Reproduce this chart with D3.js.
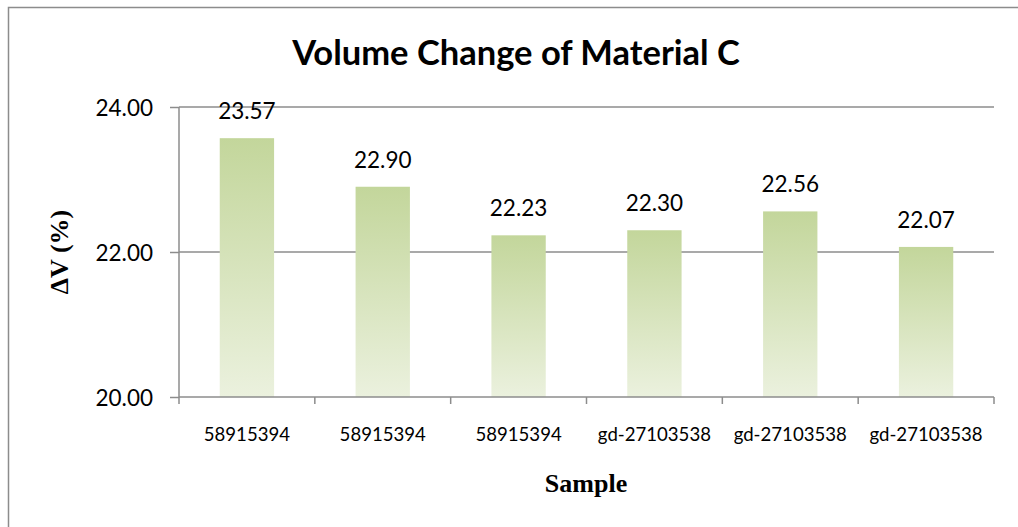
<!DOCTYPE html>
<html>
<head>
<meta charset="utf-8">
<script src="https://cdn.jsdelivr.net/npm/d3@7"></script>
<style>
  html, body { margin: 0; padding: 0; background: #fff; }
  svg { display: block; }
</style>
</head>
<body>
<svg id="chart" width="1018" height="527"></svg>
<script>
const categories = ["58915394", "58915394", "58915394", "gd-27103538", "gd-27103538", "gd-27103538"];
const values = [23.57, 22.90, 22.23, 22.30, 22.56, 22.07];
const yTicks = [20, 22, 24];
const title = "Volume Change of Material C";
const yTitle = "ΔV (%)";
const xTitle = "Sample";

const svg = d3.select("#chart");

const defs = svg.append("defs");
const grad = defs.append("linearGradient").attr("id", "barGrad")
  .attr("x1", 0).attr("y1", 0).attr("x2", 0).attr("y2", 1);
grad.append("stop").attr("offset", "0%").attr("stop-color", "#c3d69b");
grad.append("stop").attr("offset", "100%").attr("stop-color", "#ebf1de");

// outer frame
svg.append("rect").attr("x", 8.5).attr("y", 7.5).attr("width", 1030).attr("height", 560)
  .attr("fill", "#fff").attr("stroke", "#8c8c8c").attr("stroke-width", 1.5);

const x = d3.scaleBand().domain(d3.range(categories.length))
  .range([179, 994]).paddingInner(0.6).paddingOuter(0.3);
const y = d3.scaleLinear().domain([20, 24]).range([397, 107]);

// gridlines
svg.append("g").selectAll("line").data(yTicks.filter(t => t > 20)).join("line")
  .attr("x1", 179).attr("x2", 994)
  .attr("y1", d => y(d)).attr("y2", d => y(d))
  .attr("stroke", "#8c8c8c").attr("stroke-width", 1.5);

// bars
svg.append("g").selectAll("rect").data(values).join("rect")
  .attr("x", (d, i) => x(i))
  .attr("width", x.bandwidth())
  .attr("y", d => y(d))
  .attr("height", d => y(20) - y(d))
  .attr("fill", "url(#barGrad)");

// y axis
const yAxis = d3.axisLeft(y).tickValues(yTicks).tickFormat(d3.format(".2f"))
  .tickSize(9).tickPadding(17);
const gy = svg.append("g").attr("transform", "translate(179,0)").call(yAxis);
gy.select(".domain").attr("stroke", "#8c8c8c").attr("stroke-width", 1.5)
  .attr("d", "M0,107V397");
gy.selectAll(".tick line").attr("stroke", "#8c8c8c").attr("stroke-width", 1.5);
gy.selectAll(".tick text").attr("font-family", "Lato, sans-serif").attr("font-size", 22.5)
  .attr("fill", "#000").attr("dy", "0.36em");

// x axis
const xEdge = d3.scaleLinear().domain([0, categories.length]).range([179, 994]);
const gx = svg.append("g");
gx.append("line").attr("x1", 179).attr("x2", 994).attr("y1", 397).attr("y2", 397)
  .attr("stroke", "#8c8c8c").attr("stroke-width", 1.5);
gx.selectAll("line.tk").data(d3.range(categories.length + 1)).join("line").attr("class", "tk")
  .attr("x1", d => xEdge(d)).attr("x2", d => xEdge(d))
  .attr("y1", 397).attr("y2", 404)
  .attr("stroke", "#8c8c8c").attr("stroke-width", 1.5);
gx.selectAll("text").data(categories).join("text")
  .attr("x", (d, i) => x(i) + x.bandwidth() / 2)
  .attr("y", 441)
  .attr("text-anchor", "middle")
  .attr("font-family", "Lato, sans-serif").attr("font-size", 18.6)
  .attr("fill", "#000").text(d => d);

// data labels
svg.append("g").selectAll("text").data(values).join("text")
  .attr("x", (d, i) => x(i) + x.bandwidth() / 2)
  .attr("y", d => y(d) - 19)
  .attr("text-anchor", "middle")
  .attr("font-family", "Lato, sans-serif").attr("font-size", 22.5)
  .attr("fill", "#000").text(d => d3.format(".2f")(d));

// title
svg.append("text").attr("x", 516).attr("y", 65).attr("text-anchor", "middle")
  .attr("font-family", "Lato, sans-serif").attr("font-weight", "bold").attr("font-size", 34.5)
  .attr("fill", "#000").text(title);

// axis titles
svg.append("text").attr("transform", "translate(68,252) rotate(-90)")
  .attr("text-anchor", "middle")
  .attr("font-family", "'Liberation Serif', 'Times New Roman', serif").attr("font-weight", "bold")
  .attr("font-size", 26).attr("fill", "#000").text(yTitle);
svg.append("text").attr("x", 586).attr("y", 492).attr("text-anchor", "middle")
  .attr("font-family", "'Liberation Serif', 'Times New Roman', serif").attr("font-weight", "bold")
  .attr("font-size", 26).attr("fill", "#000").text(xTitle);
</script>
</body>
</html>
